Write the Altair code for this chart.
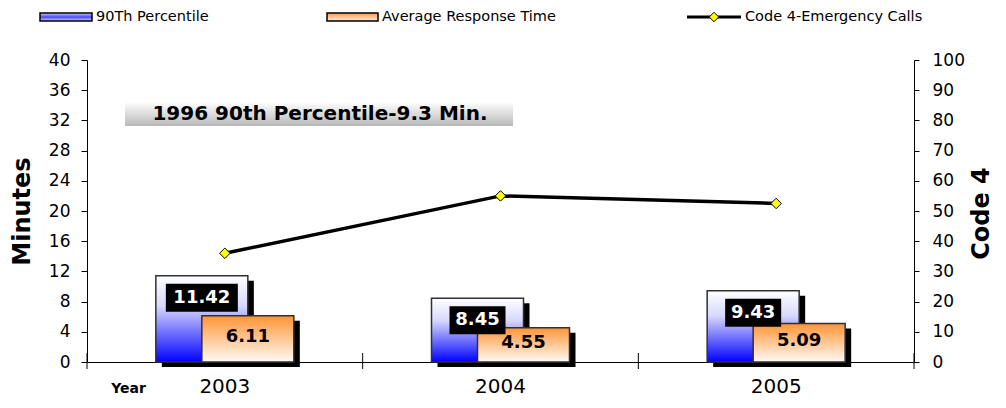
import altair as alt
import pandas as pd

# ---------------- data ----------------
years = ["2003", "2004", "2005"]
pct90 = [11.42, 8.45, 9.43]
avg_resp = [6.11, 4.55, 5.09]
code4 = [36, 55, 52.5]
pct90_labels = ["11.42", "8.45", "9.43"]
avg_labels = ["6.11", "4.55", "5.09"]
series_names = ["90Th Percentile", "Average Response Time", "Code 4-Emergency Calls"]
annotation = ["1996 90th Percentile-9.3 Min."]
left_ticks = list(range(0, 41, 4))
right_ticks = list(range(0, 101, 10))

df = pd.DataFrame({
    "year": years, "p90": pct90, "avg": avg_resp, "code4": code4,
    "p90_label": pct90_labels, "avg_label": avg_labels,
})
legend_df = pd.DataFrame({"name": series_names})
annot_df = pd.DataFrame({"text": annotation})

FONT = "DejaVu Sans"
W, H = 827, 302
BW = 92      # bar width (px)
OFF = 23     # half offset between the paired bars
SH = 6       # shadow offset

def grad(stops):
    return alt.LinearGradient(
        gradient="linear",
        stops=[alt.GradientStop(color=c, offset=o) for o, c in stops],
        x1=0, x2=0, y1=0, y2=1,
    )

blue_grad = grad([(0, "#ffffff"), (0.35, "#d8d8ff"), (1, "#0000ff")])
orange_grad = grad([(0, "#ff9436"), (1, "#fffaf5")])
gray_grad = grad([(0, "#ffffff"), (1, "#b8b8b8")])
legend_blue = grad([(0, "#d0d0ff"), (0.5, "#4a4aff"), (1, "#d0d0ff")])
legend_orange = grad([(0, "#ff9a4a"), (1, "#ffe9dc")])

xscale = alt.Scale(type="band", paddingInner=0, paddingOuter=0)
X_AXIS = alt.Axis(
    title="Year", titleX=41, titleY=26, titleAlign="center", titleBaseline="middle",
    titleFont=FONT, titleFontSize=14, titleFontWeight="bold", titleColor="black",
    labelFont=FONT, labelFontSize=20, labelColor="black", labelAngle=0,
    labelBaseline="middle", labelPadding=24, ticks=False, tickSize=0,
    domainColor="black", domainWidth=1, grid=False,
)
L_AXIS = alt.Axis(
    title="Minutes", values=left_ticks, grid=False,
    tickSize=6, tickColor="black", domainColor="black", labelPadding=11,
    labelFont=FONT, labelFontSize=17, labelColor="black",
    titleFont=FONT, titleFontSize=24, titleFontWeight="bold", titleColor="black",
    titleAngle=270, titleX=-65, titleY=151, titleAlign="center", titleBaseline="middle",
)
R_AXIS = alt.Axis(
    title="Code 4", orient="right", values=right_ticks, grid=False,
    tickSize=5, tickColor="black", domainColor="black", labelPadding=13,
    labelFont=FONT, labelFontSize=17, labelColor="black",
    titleFont=FONT, titleFontSize=24, titleFontWeight="bold", titleColor="black",
    titleAngle=270, titleX=67, titleY=153, titleAlign="center", titleBaseline="middle",
)
yscaleL = alt.Scale(domain=[0, 40], nice=False)
yscaleR = alt.Scale(domain=[0, 100], nice=False)

def xe(band=None):
    if band is None:
        return alt.X("year:N", scale=xscale, axis=X_AXIS, sort=years)
    return alt.X("year:N", scale=xscale, axis=X_AXIS, sort=years, bandPosition=band)

def yl(field):
    return alt.Y(field, scale=yscaleL, axis=L_AXIS)

def yr(field):
    return alt.Y(field, scale=yscaleR, axis=R_AXIS)

base = alt.Chart(df)

shadow90 = base.mark_bar(color="black", width=BW, xOffset=-OFF + SH, yOffset=5, y2Offset=0).encode(
    x=xe(), y=yl("p90:Q"))
bar90 = base.mark_bar(fill=blue_grad, stroke="#303030", strokeWidth=1.5, width=BW, xOffset=-OFF).encode(
    x=xe(), y=yl("p90:Q"))
shadowavg = base.mark_bar(color="black", width=BW, xOffset=OFF + SH, yOffset=5, y2Offset=0).encode(
    x=xe(), y=yl("avg:Q"))
baravg = base.mark_bar(fill=orange_grad, stroke="#303030", strokeWidth=1.5, width=BW, xOffset=OFF).encode(
    x=xe(), y=yl("avg:Q"))

bg5 = base.transform_filter("length(datum.p90_label) == 5").mark_bar(
    color="black", width=72, xOffset=-OFF, yOffset=8, y2Offset=36).encode(
    x=xe(), y=yl("p90:Q"), y2="p90:Q")
bg4 = base.transform_filter("length(datum.p90_label) == 4").mark_bar(
    color="black", width=56, xOffset=-OFF, yOffset=8, y2Offset=36).encode(
    x=xe(), y=yl("p90:Q"), y2="p90:Q")
text90 = base.mark_text(color="white", font=FONT, fontWeight="bold", fontSize=18,
                        dx=-OFF, dy=22, baseline="middle", align="center").encode(
    x=xe(), y=yl("p90:Q"), text="p90_label:N")
textavg = base.transform_calculate(mid="datum.avg / 2").mark_text(
    color="black", font=FONT, fontWeight="bold", fontSize=18,
    dx=OFF, dy=-2, baseline="middle", align="center").encode(
    x=xe(), y=yl("mid:Q"), text="avg_label:N")

xticks = base.mark_rule(color="black", strokeWidth=1).encode(
    x=xe(0), y=alt.value(H - 9), y2=alt.value(H + 7))
xtick_end = base.transform_filter(alt.datum.year == years[-1]).mark_rule(color="black", strokeWidth=1).encode(
    x=xe(1), y=alt.value(H - 9), y2=alt.value(H + 7))

# annotation box
annot_rect = alt.Chart(annot_df).mark_rect(fill=gray_grad).encode(
    x=alt.value(38), x2=alt.value(426), y=alt.value(42), y2=alt.value(66))
annot_text = alt.Chart(annot_df).mark_text(
    font=FONT, fontWeight="bold", fontSize=20, color="black", align="center", baseline="middle").encode(
    x=alt.value(233), y=alt.value(54), text="text:N")

# legend
LY = -43
def leg(i):
    return alt.Chart(legend_df).transform_filter(alt.datum.name == series_names[i])

leg_rect1 = leg(0).mark_rect(fill=legend_blue, stroke="black", strokeWidth=1.5).encode(
    x=alt.value(-47), x2=alt.value(5), y=alt.value(LY - 4), y2=alt.value(LY + 4))
leg_rect2 = leg(1).mark_rect(fill=legend_orange, stroke="black", strokeWidth=1.5).encode(
    x=alt.value(240), x2=alt.value(291), y=alt.value(LY - 4), y2=alt.value(LY + 4))
leg_line = leg(2).mark_rule(color="black", strokeWidth=3).encode(
    x=alt.value(600), x2=alt.value(654), y=alt.value(LY))
leg_pt = leg(2).mark_point(shape="diamond", filled=True, fill="#ffff00", stroke="black",
                           strokeWidth=1, size=90, opacity=1).encode(
    x=alt.value(627), y=alt.value(LY))
leg_texts = [
    leg(i).mark_text(font=FONT, fontSize=14.5, color="black", align="left", baseline="middle").encode(
        x=alt.value(xp), y=alt.value(LY), text="name:N")
    for i, xp in enumerate([9, 295, 658])
]

left_group = alt.layer(
    shadow90, bar90, shadowavg, baravg, bg5, bg4, text90, textavg,
    xticks, xtick_end, annot_rect, annot_text,
    leg_rect1, leg_rect2, leg_line, leg_pt, *leg_texts,
)

line = base.mark_line(color="black", strokeWidth=3.5).encode(x=xe(), y=yr("code4:Q"))
points = base.mark_point(shape="diamond", filled=True, fill="#ffff00", stroke="black",
                         strokeWidth=1, size=110, opacity=1).encode(x=xe(), y=yr("code4:Q"))
right_group = alt.layer(line, points)

chart = alt.layer(left_group, right_group).resolve_scale(y="independent").properties(
    width=W, height=H,
    padding={"left": 79, "top": 52, "right": 83, "bottom": 38},
    autosize=alt.AutoSizeParams(type="none"),
    background="white",
).configure_view(stroke=None)

chart.save("out.html", embed_options={"renderer": "svg", "actions": False})
